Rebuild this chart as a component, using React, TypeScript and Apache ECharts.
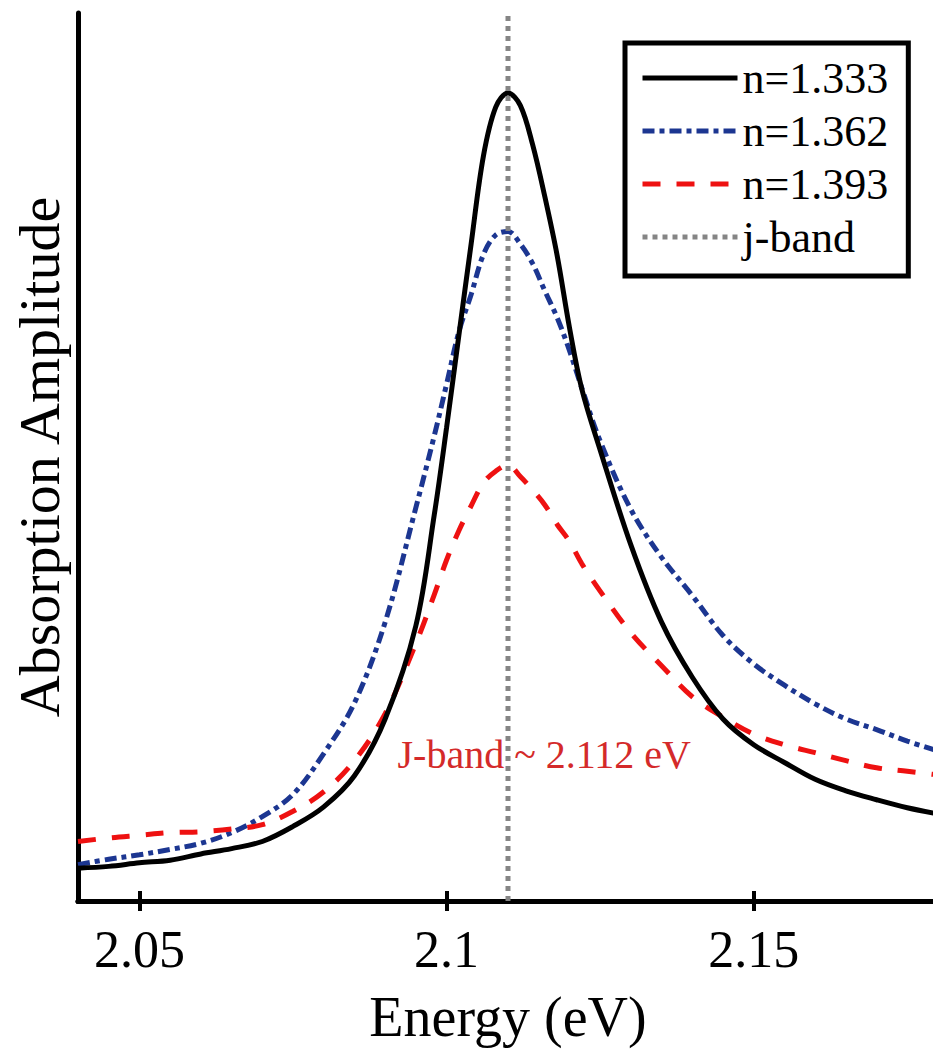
import React, { useEffect, useRef } from "react";
import * as echarts from "echarts";

const energies = [2.04, 2.045, 2.05, 2.055, 2.06, 2.065, 2.07, 2.075, 2.08, 2.085, 2.09, 2.095, 2.098, 2.1, 2.102, 2.104, 2.106, 2.108, 2.11, 2.112, 2.114, 2.116, 2.118, 2.12, 2.122, 2.125, 2.13, 2.135, 2.14, 2.145, 2.15, 2.155, 2.16, 2.165, 2.17, 2.175, 2.18];
const n1333 = [0.037, 0.039, 0.043, 0.046, 0.053, 0.059, 0.067, 0.084, 0.106, 0.141, 0.205, 0.31, 0.435, 0.533, 0.637, 0.74, 0.839, 0.894, 0.91, 0.896, 0.852, 0.793, 0.727, 0.646, 0.577, 0.508, 0.401, 0.314, 0.252, 0.205, 0.176, 0.156, 0.137, 0.124, 0.114, 0.105, 0.098];
const n1362 = [0.041, 0.047, 0.052, 0.058, 0.065, 0.077, 0.095, 0.12, 0.166, 0.223, 0.314, 0.443, 0.524, 0.582, 0.641, 0.683, 0.728, 0.75, 0.754, 0.74, 0.718, 0.687, 0.657, 0.62, 0.578, 0.518, 0.441, 0.387, 0.344, 0.299, 0.267, 0.243, 0.222, 0.205, 0.193, 0.18, 0.169];
const n1393 = [0.067, 0.071, 0.074, 0.077, 0.078, 0.081, 0.086, 0.101, 0.123, 0.158, 0.211, 0.29, 0.345, 0.384, 0.417, 0.445, 0.471, 0.484, 0.491, 0.478, 0.463, 0.446, 0.424, 0.405, 0.38, 0.349, 0.302, 0.265, 0.23, 0.207, 0.188, 0.176, 0.167, 0.158, 0.15, 0.146, 0.142];
const jBand = 2.11;
const xTicks = [2.05, 2.1, 2.15];
const seriesNames = ["n=1.333", "n=1.362", "n=1.393", "j-band"];
const annotation = { x: 2.1159, y: 0.165, text: "J-band ~ 2.112 eV" };

const FONT = "Liberation Serif";

export default function App() {
  const ref = useRef<HTMLDivElement>(null);
  useEffect(() => {
    if (!ref.current) return;
    const chart = echarts.init(ref.current, null, { renderer: "svg" });
    const pair = (ys: number[]) => energies.map((e, i) => [e, ys[i]]);
    chart.setOption({
      animation: false,
      backgroundColor: "#ffffff",
      grid: { left: 78, top: 13, width: 860, height: 892 },
      legend: {
        orient: "vertical",
        left: 625,
        top: 43,
        itemWidth: 95,
        itemHeight: 14,
        itemGap: 9,
        padding: [13, 20, 17, 15],
        borderColor: "#000",
        borderWidth: 5,
        backgroundColor: "#fff",
        itemStyle: { opacity: 0 },
        lineStyle: { width: 5 },
        textStyle: { fontFamily: FONT, fontSize: 44, color: "#000", padding: [0, 0, 0, 0] },
        data: seriesNames,
      },
      xAxis: [
        {
          type: "value",
          min: 2.04,
          max: 2.18,
          position: "bottom",
          name: "Energy (eV)",
          nameLocation: "middle",
          nameGap: 88,
          nameTextStyle: { fontFamily: FONT, fontSize: 56, color: "#000" },
          axisLine: { show: true, lineStyle: { color: "#000", width: 5 } },
          axisTick: { show: true, inside: true, length: 10, customValues: xTicks, lineStyle: { color: "#000", width: 4 } },
          axisLabel: { show: true, customValues: xTicks, margin: 22, fontFamily: FONT, fontSize: 52, color: "#000" },
          splitLine: { show: false },
        },
        {
          type: "value",
          min: 2.04,
          max: 2.18,
          position: "top",
          axisLine: { show: true, lineStyle: { color: "#000", width: 5 } },
          axisTick: { show: true, inside: true, length: 10, customValues: xTicks, lineStyle: { color: "#000", width: 4 } },
          axisLabel: { show: false },
          splitLine: { show: false },
        },
      ],
      yAxis: [
        {
          type: "value",
          min: 0,
          max: 1,
          position: "left",
          name: "Absorption Amplitude",
          nameLocation: "middle",
          nameGap: 10,
          nameTextStyle: { fontFamily: FONT, fontSize: 58, color: "#000" },
          axisLine: { show: true, lineStyle: { color: "#000", width: 5 } },
          axisTick: { show: false },
          axisLabel: { show: false },
          splitLine: { show: false },
        },
        {
          type: "value",
          min: 0,
          max: 1,
          position: "right",
          axisLine: { show: true, lineStyle: { color: "#000", width: 5 } },
          axisTick: { show: false },
          axisLabel: { show: false },
          splitLine: { show: false },
        },
      ],
      series: [
        {
          name: seriesNames[0],
          type: "line",
          data: pair(n1333),
          smooth: 0.35,
          symbol: "none",
          lineStyle: { color: "#000000", width: 5 },
          itemStyle: { color: "#000000" },
          z: 4,
        },
        {
          name: seriesNames[1],
          type: "line",
          data: pair(n1362),
          smooth: 0.35,
          symbol: "none",
          lineStyle: { color: "#1c3691", width: 5, type: [12, 5, 5, 5] },
          itemStyle: { color: "#1c3691" },
          z: 3,
        },
        {
          name: seriesNames[2],
          type: "line",
          data: pair(n1393),
          smooth: 0.35,
          symbol: "none",
          lineStyle: { color: "#ee1111", width: 5, type: [18, 16] },
          itemStyle: { color: "#ee1111" },
          z: 3,
        },
        {
          name: seriesNames[3],
          type: "line",
          data: [[jBand, 0], [jBand, 1]],
          symbol: "none",
          lineStyle: { color: "#858585", width: 5, type: [5, 5] },
          itemStyle: { color: "#858585" },
          z: 5,
        },
        {
          name: "annotation",
          type: "scatter",
          data: [[annotation.x, annotation.y]],
          symbolSize: 0,
          silent: true,
          itemStyle: { opacity: 1, color: "#d42a2a" },
          label: {
            show: true,
            position: "inside",
            formatter: annotation.text,
            fontFamily: FONT,
            fontSize: 40,
            color: "#d42a2a",
            opacity: 1,
            textBorderWidth: 0,
          },
          z: 6,
        },
      ],
    });
    return () => chart.dispose();
  }, []);
  return (
    <div style={{ position: "fixed", left: 0, top: 0, width: 933, height: 1050, overflow: "hidden", background: "#fff" }}>
      <div ref={ref} style={{ width: 960, height: 1050 }} />
    </div>
  );
}
